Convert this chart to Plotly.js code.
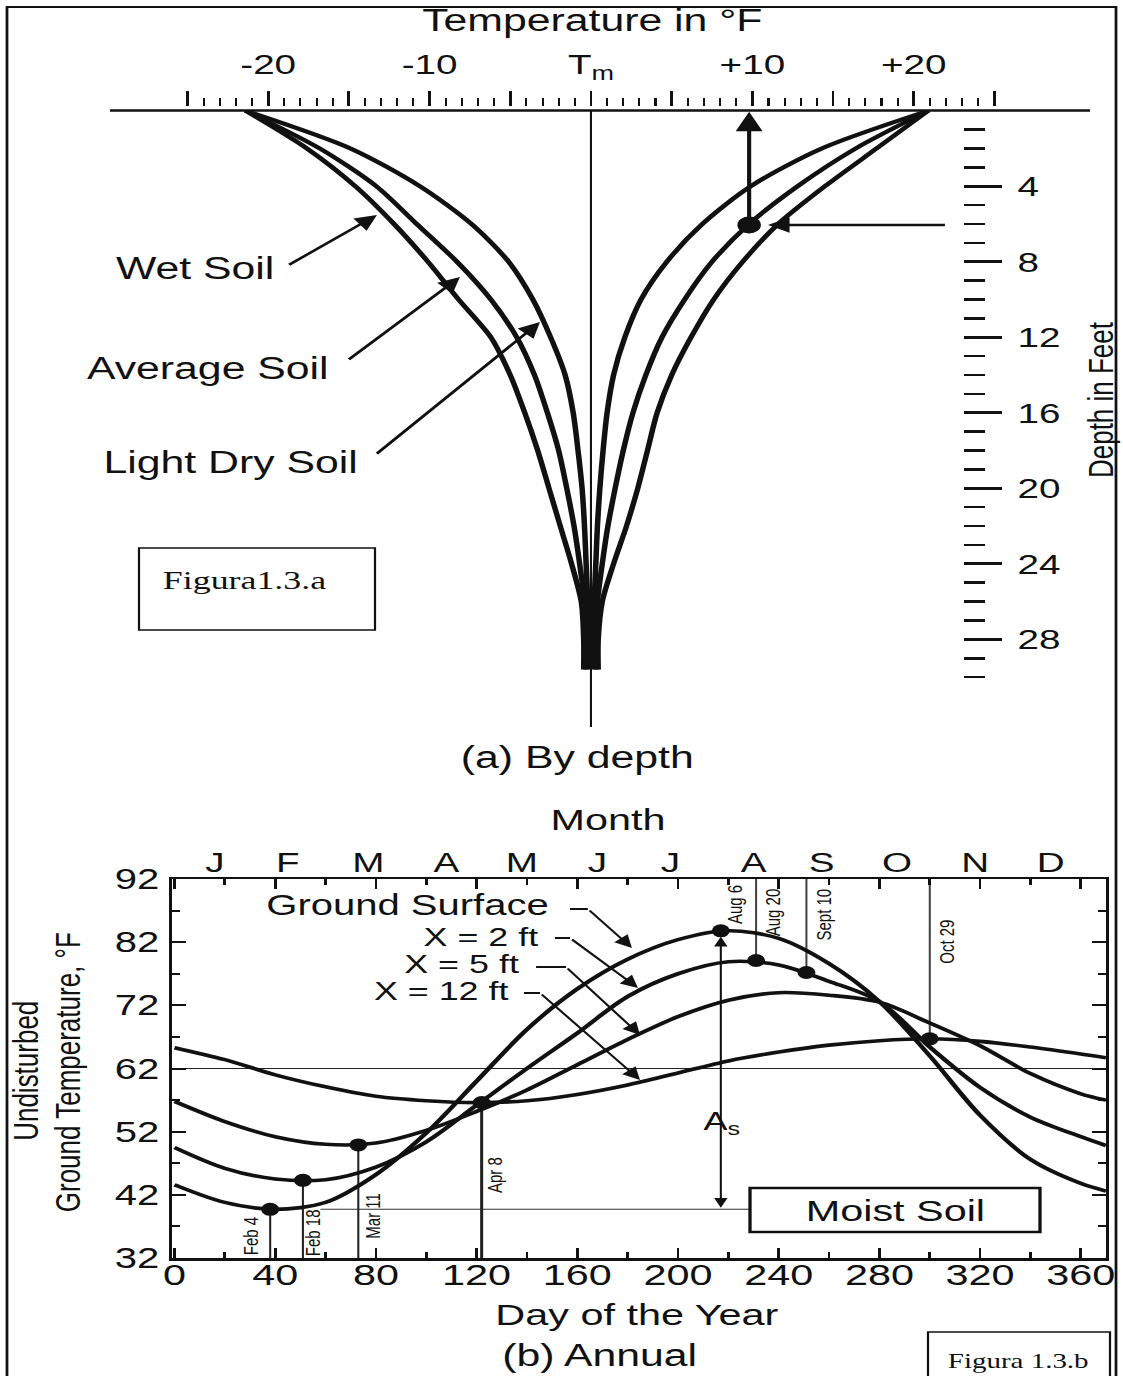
<!DOCTYPE html>
<html><head><meta charset="utf-8">
<script src="https://cdn.plot.ly/plotly-3.0.1.min.js"></script>
<style>
html,body{margin:0;padding:0;background:#fff;overflow:hidden;}
#wrap{width:814px;height:1376px;transform:scaleX(1.379607);transform-origin:0 0;}
#chart{width:814px;height:1376px;}
</style></head><body>
<div id="wrap"><div id="chart"></div></div>
<script>
// ---------- Panel (a): temperature deviation from Tm (°F) vs depth (ft) ----------
const depthFt  = [0, 2, 4, 6, 8, 10, 12, 14, 16, 18, 20, 22, 24, 26, 28, 29.6];
const wetLeft  = [-21.4, -17.6, -14.6, -12.2, -10.1, -8.2, -6.2, -5.0, -4.1, -3.3, -2.6, -1.9, -1.2, -0.6, -0.45, -0.45];
const avgLeft  = [-21.4, -16.8, -13.3, -10.8, -8.3, -6.2, -4.6, -3.5, -2.7, -2.0, -1.5, -1.05, -0.7, -0.4, -0.3, -0.3];
const dryLeft  = [-21.4, -14.9, -10.6, -7.4, -5.1, -3.6, -2.5, -1.6, -1.1, -0.8, -0.55, -0.4, -0.3, -0.2, -0.15, -0.15];
const wetRight = [20.9, 17.7, 14.5, 11.6, 9.4, 7.6, 6.2, 5.0, 4.1, 3.5, 2.9, 2.2, 1.4, 0.7, 0.45, 0.45];
const avgRight = [20.9, 16.4, 12.8, 9.8, 7.5, 5.8, 4.4, 3.4, 2.6, 2.0, 1.5, 1.05, 0.7, 0.4, 0.3, 0.3];
const dryRight = [20.9, 14.3, 9.9, 6.9, 4.7, 3.1, 2.1, 1.4, 1.0, 0.75, 0.55, 0.4, 0.3, 0.2, 0.15, 0.15];
const markTemp  = [9.8];
const markDepth = [6.05];
const tempTickVals = [-25, -20, -15, -10, -5, 0, 5, 10, 15, 20, 25];
const tempTickText = ['', '-20', '', '-10', '', 'T<sub>m</sub>', '', '+10', '', '+20', ''];
const depthTickVals = [4, 8, 12, 16, 20, 24, 28];
const soilLabels = ['Wet Soil', 'Average Soil', 'Light Dry Soil'];

// ---------- Panel (b): undisturbed ground temperature vs day of year ----------
const dayOfYear = [0, 20, 40, 60, 80, 100, 120, 140, 160, 180, 200, 220, 240, 260, 280, 300, 320, 340, 360, 370];
const surfaceT  = [43.6, 40.8, 39.7, 40.8, 45.2, 51.8, 60.0, 68.2, 74.6, 79.3, 82.4, 83.8, 82.6, 78.6, 72.6, 64.0, 54.6, 47.6, 43.8, 42.6];
const depth2ftT = [49.5, 46.2, 44.5, 44.4, 46.4, 50.4, 56.2, 62.0, 67.6, 73.4, 77.0, 78.9, 78.4, 75.8, 72.6, 65.4, 59.0, 54.3, 51.2, 49.8];
const depth5ftT = [56.8, 53.6, 51.2, 50.0, 50.2, 52.2, 55.2, 58.6, 62.6, 66.6, 70.2, 72.8, 74.0, 73.6, 72.5, 69.2, 65.6, 61.2, 58.0, 57.0];
const depth12ftT= [65.3, 63.4, 61.0, 59.1, 57.6, 56.9, 56.6, 56.9, 57.9, 59.4, 61.3, 63.2, 64.6, 65.7, 66.4, 66.7, 66.3, 65.4, 64.3, 63.7];
const curveNames = ['Ground Surface', 'X = 2 ft', 'X = 5 ft', 'X = 12 ft'];
const dotDays  = [38, 51, 73, 122, 217, 231, 251, 300];
const dotTemps = [39.7, 44.3, 49.9, 56.6, 83.8, 79.1, 77.2, 66.7];
const dotNames = ['Feb 4', 'Feb 18', 'Mar 11', 'Apr 8', 'Aug 6', 'Aug 20', 'Sept 10', 'Oct 29'];
const monthLetters = ['J','F','M','A','M','J','J','A','S','O','N','D'];
const monthDays    = [16, 45, 77, 108, 138, 168, 197, 230, 257, 287, 318, 348];
const meanTemp = 62;

// ---------- helpers (page pixel -> paper) ----------
const W = 1123, H = 1376;
const px = X => X / W, py = Y => 1 - Y / H;
const FONT = 'Liberation Sans, Arial, Helvetica, sans-serif';
const SERIF = 'Liberation Serif, Times New Roman, serif';
const INK = '#111';

const tempMinor = []; for (let t = -25; t <= 25; t++) if (t % 5 !== 0) tempMinor.push(t);
const depthMinor = []; for (let d = 1; d <= 30; d++) if (d % 4 !== 0) depthMinor.push(d);

const traces = [];
[wetLeft, avgLeft, dryLeft, wetRight, avgRight, dryRight].forEach(xs => traces.push({
  type: 'scatter', mode: 'lines', x: xs, y: depthFt, xaxis: 'x', yaxis: 'y',
  line: {color: INK, width: 4, shape: 'spline', smoothing: 0.8}, hoverinfo: 'skip', showlegend: false
}));
traces.push({type: 'scatter', mode: 'markers', x: markTemp, y: markDepth, xaxis: 'x', yaxis: 'y',
  marker: {color: INK, size: 17}, hoverinfo: 'skip', showlegend: false, cliponaxis: false});

[surfaceT, depth2ftT, depth5ftT, depth12ftT].forEach((ys, i) => traces.push({
  type: 'scatter', mode: 'lines', name: curveNames[i], x: dayOfYear, y: ys, xaxis: 'x2', yaxis: 'y2',
  line: {color: INK, width: 3.6, shape: 'spline', smoothing: 0.9}, hoverinfo: 'skip', showlegend: false
}));
traces.push({type: 'scatter', mode: 'markers', x: dotDays, y: dotTemps, xaxis: 'x2', yaxis: 'y2',
  marker: {color: INK, size: 13}, hoverinfo: 'skip', showlegend: false});
traces.push({type: 'scatter', mode: 'text', x: monthDays, y: monthDays.map(() => 92), text: monthLetters,
  textposition: 'top center', textfont: {family: FONT, size: 28, color: INK}, xaxis: 'x2', yaxis: 'y2',
  cliponaxis: false, hoverinfo: 'skip', showlegend: false});

const shapes = [];
// outer figure frame
shapes.push({type: 'rect', xref: 'paper', yref: 'paper', x0: px(7), x1: px(1116), y0: py(1390), y1: py(7), line: {color: INK, width: 2}});
// panel (a) ground surface line and Tm line
shapes.push({type: 'line', xref: 'paper', yref: 'paper', x0: px(110), x1: px(1090), y0: py(110.5), y1: py(110.5), line: {color: INK, width: 2.5}});
shapes.push({type: 'line', xref: 'x', yref: 'y', x0: 0, x1: 0, y0: 0, y1: 32.64, line: {color: INK, width: 1.5}, layer: 'below'});
// Figura 1.3.a box
shapes.push({type: 'rect', xref: 'paper', yref: 'paper', x0: px(139), x1: px(375), y0: py(630), y1: py(548), line: {color: INK, width: 1.6}});
// panel (b) mean line & min-level line
shapes.push({type: 'line', xref: 'x2', yref: 'y2', x0: -1, x1: 370, y0: meanTemp, y1: meanTemp, line: {color: '#222', width: 1.1}, layer: 'below'});
shapes.push({type: 'line', xref: 'x2', yref: 'y2', x0: 58, x1: 228.6, y0: dotTemps[0], y1: dotTemps[0], line: {color: '#333', width: 1}, layer: 'below'});
// date lines
dotDays.forEach((d, i) => {
  if (i < 4) shapes.push({type: 'line', xref: 'x2', yref: 'y2', x0: d, x1: d, y0: 32, y1: dotTemps[i], line: {color: '#222', width: i === 3 ? 2.2 : 1.5}, layer: 'below'});
  else if (i > 4) shapes.push({type: 'line', xref: 'x2', yref: 'y2', x0: d, x1: d, y0: 92, y1: dotTemps[i], line: {color: '#444', width: 1.5}, layer: 'below'});
});
// leader horizontal segments
const leaders = [
  {x0: 157.1, x1: 164.2, y: 87.25, tx: 181.7, ty: 81.08},
  {x0: 151.1, x1: 157.1, y: 82.66, tx: 184.1, ty: 74.74},
  {x0: 143.6, x1: 155.5, y: 78.07, tx: 184.9, ty: 67.3},
  {x0: 138.8, x1: 145.2, y: 73.95, tx: 184.9, ty: 60.18}
];
leaders.forEach(l => shapes.push({type: 'line', xref: 'x2', yref: 'y2', x0: l.x0, x1: l.x1, y0: l.y, y1: l.y, line: {color: INK, width: 2}}));
// Moist Soil box and Figura 1.3.b box
shapes.push({type: 'rect', xref: 'paper', yref: 'paper', x0: px(750), x1: px(1040), y0: py(1232), y1: py(1188), line: {color: INK, width: 2.4}, fillcolor: '#fff'});
shapes.push({type: 'rect', xref: 'paper', yref: 'paper', x0: px(928), x1: px(1110), y0: py(1395), y1: py(1332), line: {color: INK, width: 1.6}, fillcolor: '#fff'});

const ann = [];
const txt = (text, X, Y, size, extra) => Object.assign({text, xref: 'paper', yref: 'paper', x: px(X), y: py(Y),
  xanchor: 'center', yanchor: 'middle', showarrow: false, font: {family: FONT, size, color: INK}}, extra || {});

ann.push(txt('Temperature in °F', 593, 21, 31));
ann.push(txt('Depth in Feet', 1101, 400, 26, {textangle: -90}));
ann.push(txt(soilLabels[0], 195, 268, 31));
ann.push(txt(soilLabels[1], 207, 368, 31));
ann.push(txt(soilLabels[2], 230, 462, 31));
ann.push(txt('(a) By depth', 577, 757, 31));
ann.push(txt('Figura1.3.a', 160, 581, 26, {xanchor: 'left', font: {family: SERIF, size: 26, color: INK}}));

// soil arrows
const arrowA = (x, y, ax, ay, w) => ({text: '', xref: 'x', yref: 'y', axref: 'x', ayref: 'y', x, y, ax, ay,
  showarrow: true, arrowhead: 2, arrowsize: 1.3, arrowwidth: w, arrowcolor: INK});
ann.push(arrowA(-13.26, 5.52, -18.83, 8.22, 2.4));
ann.push(arrowA(-8.12, 8.81, -15.12, 13.25, 2.4));
ann.push(arrowA(-3.16, 11.19, -13.38, 18.24, 2.4));
ann.push(arrowA(markTemp[0], 0.05, markTemp[0], markDepth[0], 3));
ann.push(arrowA(10.97, markDepth[0], 22.06, markDepth[0], 2.4));

// panel (b) texts
ann.push(txt('Month', 608, 820, 30));
ann.push(txt('Day of the Year', 637, 1314, 30));
ann.push(txt('(b) Annual', 600, 1355, 31));
ann.push(txt('Undisturbed', 26, 1071, 26, {textangle: -90}));
ann.push(txt('Ground Temperature, °F', 68, 1072, 26, {textangle: -90}));
ann.push(txt(curveNames[0], 552, 905, 29, {xanchor: 'right'}));
ann.push(txt(curveNames[1], 542, 937, 26, {xanchor: 'right'}));
ann.push(txt(curveNames[2], 523, 964, 26, {xanchor: 'right'}));
ann.push(txt(curveNames[3], 512, 991, 26, {xanchor: 'right'}));
ann.push(txt('Moist Soil', 895, 1210, 30));
ann.push(txt('A<sub>s</sub>', 721, 1122, 26));
ann.push(txt('Figura 1.3.b', 945, 1361, 21, {xanchor: 'left', font: {family: SERIF, size: 21, color: INK}}));
leaders.forEach(l => ann.push({text: '', xref: 'x2', yref: 'y2', axref: 'x2', ayref: 'y2', x: l.tx, y: l.ty, ax: l.x1, ay: l.y,
  showarrow: true, arrowhead: 2, arrowsize: 1.4, arrowwidth: 1.8, arrowcolor: INK}));
ann.push({text: '', xref: 'x2', yref: 'y2', axref: 'x2', ayref: 'y2', x: dotDays[4], y: dotTemps[4], ax: dotDays[4], ay: dotTemps[0],
  showarrow: true, arrowside: 'end+start', arrowhead: 2, startarrowhead: 2, arrowsize: 1.3, startarrowsize: 1.3,
  arrowwidth: 1.5, arrowcolor: INK, standoff: 6});
const datePos = [[250, 1236], [312, 1233], [372, 1216], [494, 1175], [734, 905], [773, 912], [823, 915], [946, 942]];
dotNames.forEach((n, i) => ann.push(txt(n, datePos[i][0], datePos[i][1], 15, {textangle: -90})));

const layout = {
  width: 814, height: 1376, margin: {l: 0, r: 0, t: 0, b: 0},
  paper_bgcolor: '#fff', plot_bgcolor: 'rgba(0,0,0,0)', showlegend: false,
  font: {family: FONT, color: INK},
  xaxis: {domain: [px(110), px(1090)], range: [-29.8, 30.92], anchor: 'free', position: py(106), side: 'top',
    showline: false, showgrid: false, zeroline: false, tickmode: 'array', tickvals: tempTickVals, ticktext: tempTickText,
    ticks: 'outside', ticklen: 15, tickwidth: 2, tickcolor: INK, tickfont: {size: 28, color: INK}, ticklabelstandoff: 6,
    minor: {tickmode: 'array', tickvals: tempMinor, ticks: 'outside', ticklen: 8, tickwidth: 1.5, tickcolor: INK}},
  yaxis: {domain: [py(727), py(110.7)], range: [32.64, 0], anchor: 'free', position: px(963), side: 'right',
    showline: false, showgrid: false, zeroline: false, tickmode: 'array', tickvals: depthTickVals,
    ticks: 'outside', ticklen: 27, tickwidth: 3, tickcolor: INK, tickfont: {size: 28, color: INK}, ticklabelstandoff: 6,
    minor: {tickmode: 'array', tickvals: depthMinor, ticks: 'outside', ticklen: 15, tickwidth: 2.5, tickcolor: INK}},
  xaxis2: {domain: [px(172), px(1106)], range: [-1, 370], anchor: 'y2', showline: true, linewidth: 2.5, linecolor: INK,
    mirror: 'ticks', ticks: 'inside', tick0: 0, dtick: 40, ticklen: 10, tickwidth: 2, tickcolor: INK,
    tickfont: {size: 30, color: INK}, ticklabelstandoff: -11, showgrid: false, zeroline: false,
    minor: {tick0: 0, dtick: 20, ticks: 'inside', ticklen: 6, tickwidth: 2, tickcolor: INK}},
  yaxis2: {domain: [py(1258), py(879)], range: [32, 92], anchor: 'x2', showline: true, linewidth: 2.5, linecolor: INK,
    mirror: 'ticks', ticks: 'inside', tick0: 32, dtick: 10, ticklen: 10, tickwidth: 2, tickcolor: INK,
    tickfont: {size: 29, color: INK}, ticklabelstandoff: 1, showgrid: false, zeroline: false,
    minor: {tick0: 32, dtick: 5, ticks: 'inside', ticklen: 6, tickwidth: 2, tickcolor: INK}},
  shapes, annotations: ann
};
Plotly.newPlot('chart', traces, layout, {displayModeBar: false, staticPlot: true});
</script></body></html>
